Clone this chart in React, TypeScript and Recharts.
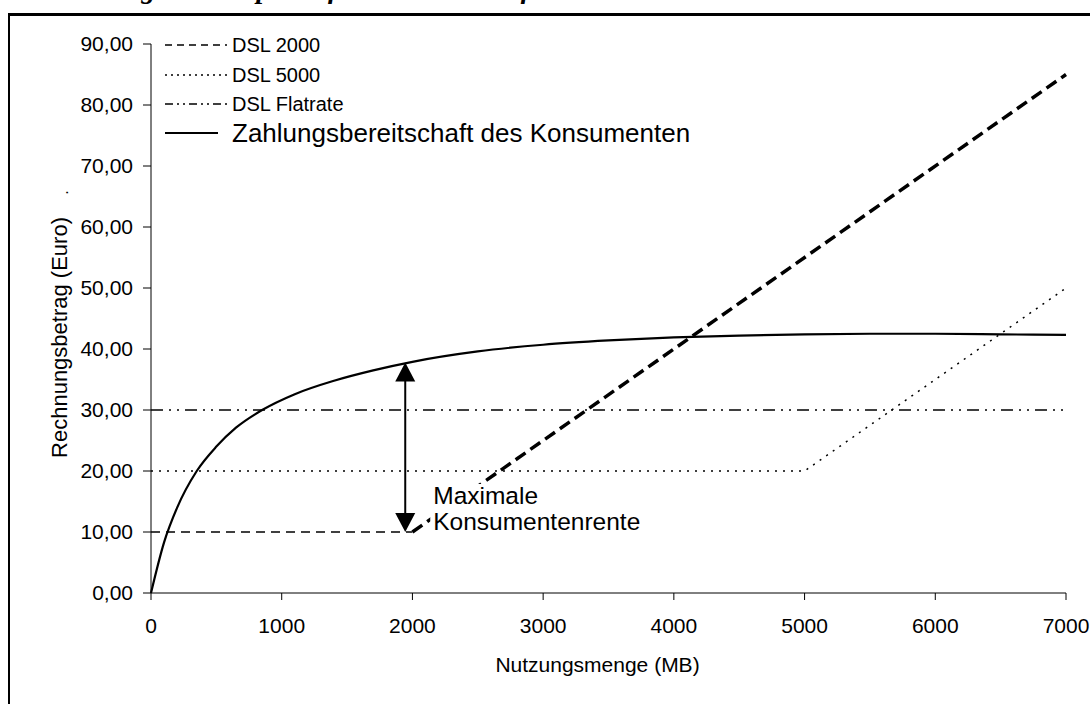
import React from 'react';
import { LineChart, Line, XAxis, YAxis, Legend, ReferenceLine } from 'recharts';

// ---- data ----
const xTicks = [0, 1000, 2000, 3000, 4000, 5000, 6000, 7000];
const yTicks = [0, 10, 20, 30, 40, 50, 60, 70, 80, 90];

const dsl2000BaseMB = [0, 2000];
const dsl2000BaseEuro = [10, 10];
const dsl2000UsageMB = [2000, 7000];
const dsl2000UsageEuro = [10, 85];

const dsl5000MB = [0, 5000, 7000];
const dsl5000Euro = [20, 20, 50];

const flatrateMB = [0, 7000];
const flatrateEuro = [30, 30];

const wtpMB = [0, 100, 200, 350, 500, 650, 850, 1100, 1400, 1700, 2000, 2500, 3000, 3500, 4000, 4500, 5000, 5500, 6000, 6500, 7000];
const wtpEuro = [0, 8.3, 14, 20, 24, 27.1, 30, 32.6, 34.8, 36.5, 37.9, 39.6, 40.7, 41.4, 41.9, 42.2, 42.4, 42.5, 42.5, 42.4, 42.3];

const arrowMB = 1945;
const arrowEuro = [10, 37.8];

const seriesNames = ['DSL 2000', 'DSL 5000', 'DSL Flatrate', 'Zahlungsbereitschaft des Konsumenten'];
const annotationLines = ['Maximale', 'Konsumentenrente'];
const xTitle = 'Nutzungsmenge (MB)';
const yTitle = 'Rechnungsbetrag (Euro)';
const pageTitle = 'Abbildung 12: Beispielhafte Preismodelle für DSL';

const toPoints = (xs: number[], ys: number[]) => xs.map((x, i) => ({ x, y: ys[i] }));

const dsl2000Base = toPoints(dsl2000BaseMB, dsl2000BaseEuro);
const dsl2000Usage = toPoints(dsl2000UsageMB, dsl2000UsageEuro);
const dsl5000 = toPoints(dsl5000MB, dsl5000Euro);
const flatrate = toPoints(flatrateMB, flatrateEuro);
const wtp = toPoints(wtpMB, wtpEuro);

const FONT = '"Liberation Sans", Arial, Helvetica, sans-serif';

const legendStyles: Record<string, { dash?: string; width: number; size: number; len: number }> = {
  [seriesNames[0]]: { dash: '7 5', width: 1.4, size: 20, len: 62 },
  [seriesNames[1]]: { dash: '2 4', width: 1.4, size: 20, len: 62 },
  [seriesNames[2]]: { dash: '8 4 2 4 2 4', width: 1.4, size: 20, len: 62 },
  [seriesNames[3]]: { dash: undefined, width: 2.2, size: 26, len: 53 },
};

const fmt = (v: number) => v.toFixed(2).replace('.', ',');

const renderLegend = (props: any) => {
  const payload = (props.payload || []).filter((p: any) => legendStyles[p.value]);
  const rowY = [17, 47, 76, 105];
  return (
    <svg width={640} height={125} style={{ display: 'block' }}>
      {payload.map((p: any, i: number) => {
        const s = legendStyles[p.value];
        const y = rowY[i] ?? 17 + i * 30;
        return (
          <g key={p.value}>
            <line x1={15} x2={15 + s.len} y1={y} y2={y} stroke="#000" strokeWidth={s.width} strokeDasharray={s.dash} />
            <text x={82} y={y} dominantBaseline="central" fontFamily={FONT} fontSize={s.size} fill="#000">
              {p.value}
            </text>
          </g>
        );
      })}
    </svg>
  );
};

const ArrowShape = (p: any) => {
  const { x1, y1, x2, y2 } = p;
  const x = (x1 + x2) / 2;
  const top = Math.min(y1, y2);
  const bottom = Math.max(y1, y2);
  const hw = 10;
  const hh = 19;
  const tx = x + 28;
  return (
    <g>
      <line x1={x} x2={x} y1={top + hh - 1} y2={bottom - hh + 1} stroke="#000" strokeWidth={2} />
      <polygon points={`${x},${top} ${x - hw},${top + hh} ${x + hw},${top + hh}`} fill="#000" />
      <polygon points={`${x},${bottom} ${x - hw},${bottom - hh} ${x + hw},${bottom - hh}`} fill="#000" />
      <rect x={tx - 3} y={bottom - 48} width={218} height={53} fill="#fff" />
      <text x={tx} y={bottom - 28} fontFamily={FONT} fontSize={24.5} fill="#000">
        <tspan x={tx} y={bottom - 28}>{annotationLines[0]}</tspan>
        <tspan x={tx} y={bottom - 2}>{annotationLines[1]}</tspan>
      </text>
    </g>
  );
};

const renderXTitle = (props: any) => {
  const vb = props.viewBox || { x: 151, y: 593, width: 915, height: 90 };
  const cx = vb.x + vb.width / 2 - 11;
  return (
    <text x={cx} y={672} textAnchor="middle" fontFamily={FONT} fontSize={21} fill="#000">
      {xTitle}
    </text>
  );
};

const renderYTitle = (props: any) => {
  const vb = props.viewBox || { x: 0, y: 44, width: 151, height: 549 };
  const cx = vb.x + 59;
  const cy = vb.y + vb.height / 2 + 19;
  return (
    <g>
      <text x={cx} y={cy} transform={`rotate(-90 ${cx} ${cy})`} textAnchor="middle" dominantBaseline="central" fontFamily={FONT} fontSize={22} fill="#000">
        {yTitle}
      </text>
      <text x={cx + 9} y={cy - 145} transform={`rotate(-90 ${cx + 9} ${cy - 145})`} textAnchor="middle" fontFamily={FONT} fontSize={16} fill="#000">
        .
      </text>
    </g>
  );
};

const tickStyle = { fontFamily: FONT, fontSize: 21, fill: '#000' };

export default function App() {
  return (
    <div style={{ position: 'fixed', left: 0, top: 0, width: 1090, height: 704, overflow: 'hidden', background: '#fff' }}>
      <svg width={1090} height={13} style={{ position: 'absolute', left: 0, top: 0 }}>
        <text x={34} y={-2} fontFamily='"Liberation Serif", "Times New Roman", serif' fontStyle="italic" fontWeight="bold" fontSize={28} fill="#000">
          {pageTitle}
        </text>
      </svg>
      <div style={{ position: 'absolute', left: 8, top: 13, width: 1200, height: 800, borderLeft: '2px solid #000', borderTop: '3px solid #000' }} />
      <div style={{ position: 'absolute', left: 0, top: 0 }}>
        <LineChart width={1090} height={704} margin={{ top: 44, right: 24, bottom: 21, left: 0 }}>
          <XAxis
            type="number"
            dataKey="x"
            domain={[0, 7000]}
            ticks={xTicks}
            interval={0}
            height={90}
            tickSize={7}
            tickMargin={18}
            tick={tickStyle}
            stroke="#000"
            axisLine={{ stroke: '#000' }}
            tickLine={{ stroke: '#000' }}
            label={renderXTitle}
          />
          <YAxis
            type="number"
            domain={[0, 90]}
            ticks={yTicks}
            interval={0}
            width={151}
            tickSize={8}
            tickMargin={10}
            tickFormatter={fmt}
            tick={tickStyle}
            stroke="#000"
            axisLine={{ stroke: '#000' }}
            tickLine={{ stroke: '#000' }}
            label={renderYTitle}
          />
          <Legend
            layout="vertical"
            align="center"
            verticalAlign="middle"
            content={renderLegend}
            wrapperStyle={{ position: 'absolute', left: 150, top: 28, width: 640, height: 125 }}
          />
          <Line name={seriesNames[0]} data={dsl2000Base} dataKey="y" type="linear" stroke="#000" strokeWidth={1.4} strokeDasharray="9 6" dot={false} activeDot={false} isAnimationActive={false} />
          <Line name={seriesNames[1]} data={dsl5000} dataKey="y" type="linear" stroke="#000" strokeWidth={1.5} strokeDasharray="2 6" dot={false} activeDot={false} isAnimationActive={false} />
          <Line name={seriesNames[2]} data={flatrate} dataKey="y" type="linear" stroke="#000" strokeWidth={1.4} strokeDasharray="12 6 2 6 2 6" dot={false} activeDot={false} isAnimationActive={false} />
          <Line name="DSL 2000 Nutzung" legendType="none" data={dsl2000Usage} dataKey="y" type="linear" stroke="#000" strokeWidth={3.5} strokeDasharray="12 6" dot={false} activeDot={false} isAnimationActive={false} />
          <Line name={seriesNames[3]} data={wtp} dataKey="y" type="monotone" stroke="#000" strokeWidth={2.2} dot={false} activeDot={false} isAnimationActive={false} />
          <ReferenceLine
            segment={[{ x: arrowMB, y: arrowEuro[0] }, { x: arrowMB, y: arrowEuro[1] }]}
            stroke="#000"
            shape={ArrowShape}
          />
        </LineChart>
      </div>
    </div>
  );
}
